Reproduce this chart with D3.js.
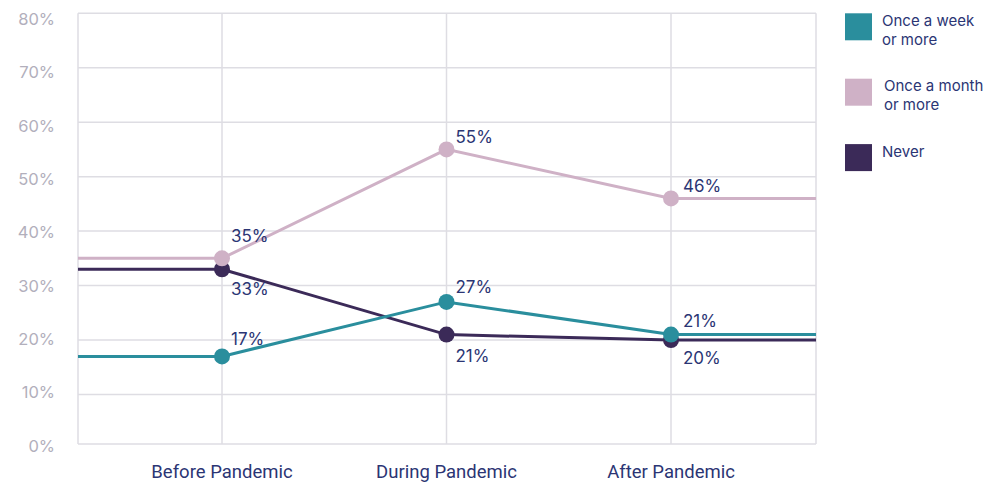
<!DOCTYPE html>
<html>
<head>
<meta charset="utf-8">
<script src="https://cdn.jsdelivr.net/npm/d3@7"></script>
<style>
  body { margin: 0; background: #fff; }
  svg { display: block; }
</style>
</head>
<body>
<svg id="chart" width="1008" height="482"></svg>
<script>
// Periods on the x axis
const periods = ["Before Pandemic", "During Pandemic", "After Pandemic"];

// Share of respondents per frequency group (%)
const onceAWeek = [17, 27, 21];
const onceAMonth = [35, 55, 46];
const never = [33, 21, 20];

// Y axis tick values (%)
const yTicks = [0, 10, 20, 30, 40, 50, 60, 70, 80];

// Legend entries
const legendLabels = [["Once a week", "or more"], ["Once a month", "or more"], ["Never"]];

const colors = { week: "#2a8e9d", month: "#cfb1c6", never: "#3b2a58" };
const labelColor = "#2b3574";
const gridColor = "#dedde3";
const tickColor = "#b2afbc";

// Vertical placement of value labels relative to their point (px)
const labelNudge = {
  week: [-11, -8.5, -8],
  month: [-16.5, -6, -6],
  never: [26, 27, 24]
};

const svg = d3.select("#chart");

const frame = { left: 78, right: 816, bottom: 444 };

const x = d3.scalePoint().domain(periods).range([222, 671]);
const y = d3.scaleLinear().domain([0, 80]).range([449, 13.2]);
// baseline positions of the y tick labels
const yLabel = d3.scaleLinear().domain([0, 80]).range([451.7, 25]);

// Grid: horizontal lines per tick, vertical lines per period plus frame edges
const grid = svg.append("g");
grid.selectAll("line.h")
  .data(yTicks.filter(d => d > 0))
  .join("line")
  .attr("x1", frame.left).attr("x2", frame.right)
  .attr("y1", d => y(d)).attr("y2", d => y(d))
  .attr("stroke", gridColor).attr("stroke-width", 1.5);
grid.append("line")
  .attr("x1", frame.left).attr("x2", frame.right)
  .attr("y1", frame.bottom).attr("y2", frame.bottom)
  .attr("stroke", gridColor).attr("stroke-width", 1.5);
const vx = [frame.left, ...periods.map(p => x(p)), frame.right];
grid.selectAll("line.v")
  .data(vx)
  .join("line")
  .attr("x1", d => d).attr("x2", d => d)
  .attr("y1", y(80)).attr("y2", frame.bottom)
  .attr("stroke", gridColor).attr("stroke-width", 1.5);

// Y tick labels
svg.append("g").selectAll("text")
  .data(yTicks)
  .join("text")
  .attr("x", 55)
  .attr("y", d => yLabel(d))
  .attr("text-anchor", "end")
  .attr("font-family", "Inter, Lato, sans-serif")
  .attr("font-size", 16.5)
  .attr("fill", tickColor)
  .text(d => d + "%");

// X tick labels
svg.append("g").selectAll("text")
  .data(periods)
  .join("text")
  .attr("x", d => x(d))
  .attr("y", 477.5)
  .attr("text-anchor", "middle")
  .attr("font-family", "Roboto, 'Noto Sans', sans-serif")
  .attr("font-size", 18.5)
  .attr("fill", labelColor)
  .text(d => d);

// Series, drawn back to front
const series = [
  { key: "never", values: never, color: colors.never },
  { key: "week", values: onceAWeek, color: colors.week },
  { key: "month", values: onceAMonth, color: colors.month }
];

const line = d3.line().x(d => d[0]).y(d => d[1]);

series.forEach(s => {
  const pts = periods.map((p, i) => [x(p), y(s.values[i])]);
  // flat lead-in and lead-out to the frame edges
  const path = [[frame.left, pts[0][1]], ...pts, [frame.right, pts[pts.length - 1][1]]];
  const g = svg.append("g");
  g.append("path")
    .attr("d", line(path))
    .attr("fill", "none")
    .attr("stroke", s.color)
    .attr("stroke-width", 3);
  g.selectAll("circle")
    .data(s.values)
    .join("circle")
    .attr("cx", (d, i) => x(periods[i]))
    .attr("cy", d => y(d))
    .attr("r", 8)
    .attr("fill", s.color);
});

// Value labels
series.forEach(s => {
  svg.append("g").selectAll("text")
    .data(s.values)
    .join("text")
    .attr("x", (d, i) => x(periods[i]) + (i === 2 ? 12 : 9))
    .attr("y", (d, i) => y(d) + labelNudge[s.key][i])
    .attr("font-family", "Inter, Lato, sans-serif")
    .attr("font-size", 17)
    .attr("fill", labelColor)
    .text(d => d + "%");
});

// Legend
const legendKeys = [colors.week, colors.month, colors.never];
const legend = svg.append("g");
legendKeys.forEach((c, i) => {
  const top = 13.3 + i * 65.4;
  legend.append("rect")
    .attr("x", 845).attr("y", top)
    .attr("width", 27).attr("height", 27)
    .attr("fill", c);
  const t = legend.append("text")
    .attr("font-family", "Inter, Lato, sans-serif")
    .attr("font-size", 15)
    .attr("fill", labelColor);
  legendLabels[i].forEach((ln, j) => {
    t.append("tspan")
      .attr("x", i === 1 ? 884 : 882)
      .attr("y", top + 12.5 + j * 19)
      .text(ln);
  });
});
</script>
</body>
</html>
